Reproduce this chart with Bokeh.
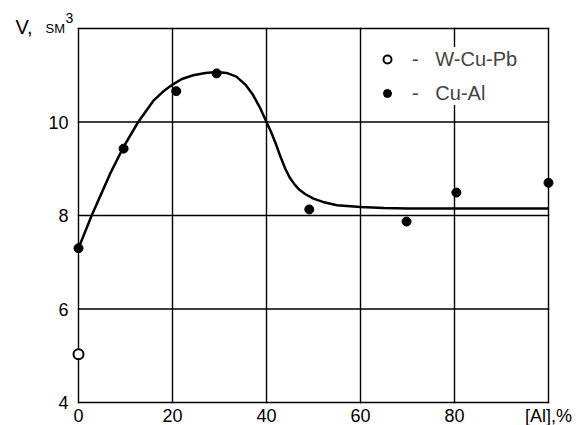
from bokeh.plotting import figure
from bokeh.models import Range1d, Legend, LegendItem
from bokeh.core.properties import value
from bokeh.embed import file_html
from bokeh.resources import INLINE

# ---- data ----
wcupb_x = [0]
wcupb_y = [5.03]

cual_x = [0, 9.6, 20.8, 29.4, 49.1, 69.8, 80.4, 100]
cual_y = [7.3, 9.43, 10.66, 11.04, 8.13, 7.87, 8.49, 8.7]

curve_x = [0, 2.8, 5, 7, 9.5, 12.7, 15.9, 18, 20, 22, 24.4, 27, 29.4, 31.5,
           33.6, 35.5, 37, 38.5, 40, 41, 42, 43, 44, 45, 46, 47, 48.2, 50,
           52, 55, 60, 65, 70, 80, 90, 100]
curve_y = [7.3, 8.0, 8.5, 8.95, 9.45, 10.0, 10.45, 10.65, 10.8, 10.92, 11.0,
           11.05, 11.07, 11.05, 10.97, 10.8, 10.6, 10.33, 10.0, 9.78, 9.53,
           9.25, 9.0, 8.8, 8.66, 8.55, 8.46, 8.36, 8.29, 8.22, 8.18, 8.16,
           8.15, 8.15, 8.15, 8.15]

x_ticks = [0, 20, 40, 60, 80, 100]
x_tick_labels = ["0", "20", "40", "60", "80", "[Al],%"]
y_ticks = [4, 6, 8, 10]
y_tick_labels = ["4", "6", "8", "10"]
y_grid = [4, 6, 8, 10, 12]

FONT = "Liberation Sans"

# ---- layout (pixels) ----
W, H = 580, 425
X0_PX, X100_PX = 78, 548      # screen x of x=0 and x=100
Y12_PX, Y4_PX = 28, 402       # screen y of y=12 and y=4
PX_X = (X100_PX - X0_PX) / (x_ticks[-1] - x_ticks[0])
PX_Y = (Y4_PX - Y12_PX) / (y_grid[-1] - y_grid[0])
xmin, xmax = x_ticks[0], x_ticks[-1]
ymin, ymax = y_grid[0], y_grid[-1]

p = figure(width=W, height=H,
           x_range=Range1d(xmin - X0_PX / PX_X, xmin + (W - X0_PX) / PX_X),
           y_range=Range1d(ymin - (H - Y4_PX) / PX_Y, ymax + Y12_PX / PX_Y),
           output_backend="svg", toolbar_location=None,
           min_border=0, min_border_left=0, min_border_right=0,
           min_border_top=0, min_border_bottom=0)
p.outline_line_color = None
p.background_fill_color = "white"
p.border_fill_color = "white"
p.xaxis.visible = False
p.yaxis.visible = False
p.grid.visible = False

# grid / frame lines
p.multi_line(xs=[[t, t] for t in x_ticks], ys=[[ymin, ymax] for _ in x_ticks],
             line_color="black", line_width=1.4, line_cap="square")
p.multi_line(xs=[[xmin, xmax] for _ in y_grid], ys=[[t, t] for t in y_grid],
             line_color="black", line_width=1.4, line_cap="square")

# tick labels
p.text(x=x_ticks, y=[ymin - 13 / PX_Y] * len(x_ticks), text=x_tick_labels,
       text_font=value(FONT), text_font_size="18px", text_color="black",
       text_align="center", text_baseline="middle")
p.text(x=[xmin - 10 / PX_X] * len(y_ticks), y=y_ticks, text=y_tick_labels,
       text_font=value(FONT), text_font_size="18px", text_color="black",
       text_align="right", text_baseline="middle")

# y axis title: "V,  SM^3"
p.text(x=[xmin - 63 / PX_X], y=[ymax + 2 / PX_Y], text=["V,"],
       text_font=value(FONT), text_font_size="20px", text_color="black",
       text_align="left", text_baseline="middle")
p.text(x=[xmin - 33 / PX_X], y=[ymax + 0.5 / PX_Y], text=["SM"],
       text_font=value(FONT), text_font_size="13px", text_color="black",
       text_align="left", text_baseline="middle")
p.text(x=[xmin - 13 / PX_X], y=[ymax + 10.5 / PX_Y], text=["3"],
       text_font=value(FONT), text_font_size="14px", text_color="black",
       text_align="left", text_baseline="middle")

# curve
p.line(curve_x, curve_y, line_color="black", line_width=2.5)

# points
r_w = p.scatter(wcupb_x, wcupb_y, size=10, marker="circle", fill_color="white",
                line_color="black", line_width=2)
r_c = p.scatter(cual_x, cual_y, size=9, marker="circle", fill_color="black",
                line_color="black")

legend = Legend(items=[LegendItem(label="-   W-Cu-Pb", renderers=[r_w]),
                       LegendItem(label="-   Cu-Al", renderers=[r_c])],
                location=(377, 320), orientation="vertical",
                background_fill_color="white", background_fill_alpha=1.0,
                border_line_color=None, padding=9, spacing=10,
                glyph_width=20, glyph_height=24, label_standoff=15,
                label_text_font=FONT, label_text_font_size="20px",
                label_height=24, margin=0)
p.add_layout(legend)

open("out.html", "w").write(file_html(p, INLINE))
